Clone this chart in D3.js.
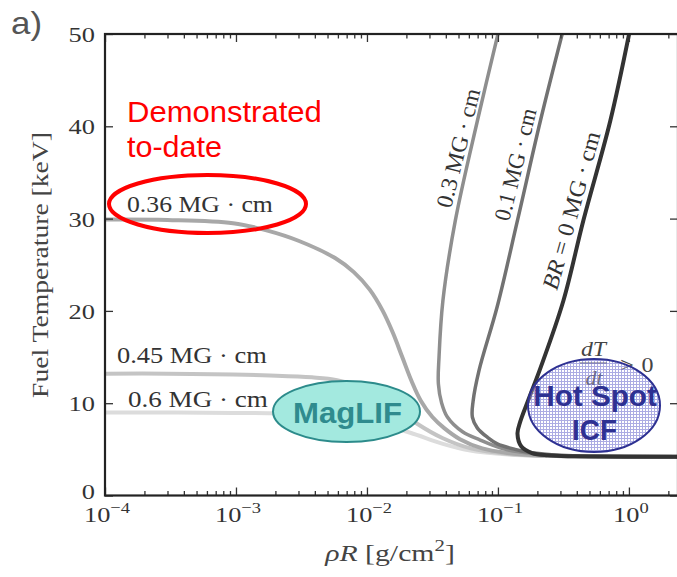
<!DOCTYPE html>
<html><head><meta charset="utf-8">
<script src="https://cdn.jsdelivr.net/npm/d3@7"></script>
<style>body{margin:0;background:#fff}svg{display:block}</style>
</head><body>
<svg id="c" width="677" height="577"></svg>
<script>
// ---------- data ----------
const xMajorTicks = [1e-4, 1e-3, 1e-2, 1e-1, 1e0];
const xTickExponents = ["−4", "−3", "−2", "−1", "0"];
const yTicks = [0, 10, 20, 30, 40, 50];
const yTickLabels = ["0", "10", "20", "30", "40", "50"];

const seriesNames = ["0.6 MG·cm", "0.45 MG·cm", "0.36 MG·cm", "0.3 MG·cm", "0.1 MG·cm", "BR = 0 MG·cm"];

const rhoR_06  = [1e-4, 9.5e-4, 3.0e-3, 6.0e-3, 1.2e-2, 2.14e-2, 3.8e-2, 6.0e-2, 0.12, 0.24, 2.37];
const T_06     = [9.0, 8.95, 8.85, 8.6, 7.8, 6.8, 5.6, 4.9, 4.45, 4.3, 4.2];

const rhoR_045 = [1e-4, 3.0e-4, 9.5e-4, 1.82e-3, 3.8e-3, 5.9e-3, 9.5e-3, 1.51e-2, 2.4e-2, 3.8e-2, 6.2e-2, 0.12, 0.24, 2.37];
const T_045    = [13.2, 13.2, 13.1, 13.0, 12.8, 12.5, 11.6, 9.9, 7.8, 6.2, 5.1, 4.5, 4.3, 4.2];

const rhoR_036 = [1e-4, 3.0e-4, 9.5e-4, 1.74e-3, 3.0e-3, 5.75e-3, 7.94e-3, 1.05e-2, 1.32e-2, 1.58e-2, 1.86e-2, 2.19e-2, 2.57e-2, 3.16e-2, 3.89e-2, 5.13e-2, 7.59e-2, 0.12, 0.19, 0.38, 2.37];
const T_036    = [29.9, 29.85, 29.5, 28.7, 27.6, 25.7, 24.2, 22.3, 20.0, 17.6, 15.0, 12.4, 10.3, 8.5, 7.3, 6.1, 5.1, 4.6, 4.35, 4.25, 4.2];

const rhoR_03  = [0.102, 0.0697, 0.0473, 0.038, 0.0355, 0.0351, 0.0372, 0.0411, 0.0537, 0.0733, 0.107, 0.148, 0.24, 0.48, 2.37];
const T_03     = [50.5, 40.6, 29.8, 21.1, 15.0, 12.1, 10.0, 8.5, 6.9, 6.0, 5.1, 4.7, 4.35, 4.25, 4.2];

const rhoR_01  = [0.316, 0.211, 0.141, 0.0989, 0.0716, 0.0646, 0.0638, 0.0697, 0.0832, 0.0989, 0.135, 0.177, 0.302, 0.60, 2.37];
const T_01     = [50.5, 40.6, 29.8, 20.5, 13.5, 10.2, 8.5, 7.3, 6.3, 5.6, 5.0, 4.65, 4.35, 4.25, 4.2];

const rhoR_0   = [1.02, 0.721, 0.449, 0.316, 0.211, 0.170, 0.148, 0.141, 0.151, 0.182, 0.24, 0.38, 2.37];
const T_0      = [50.5, 40.6, 29.8, 21.1, 13.8, 10.3, 8.0, 6.7, 5.3, 4.6, 4.35, 4.25, 4.2];

// ---------- setup ----------
const serif = "'Liberation Serif','DejaVu Serif',serif";
const sans = "'Liberation Sans',Arial,sans-serif";
const svg = d3.select("#c");
svg.append("rect").attr("width", 677).attr("height", 577).attr("fill", "#fff");

const L = 105, R = 678, T = 34, B = 495.5;
const x = d3.scaleLog().domain([1e-4, 2.37]).range([L, R]);
const y = d3.scaleLinear().domain([0, 50]).range([B, T]);

const defs = svg.append("defs");
defs.append("clipPath").attr("id", "plot").append("rect")
  .attr("x", L).attr("y", T).attr("width", R - L).attr("height", B - T);
const pat = defs.append("pattern").attr("id", "hatch").attr("width", 3).attr("height", 3)
  .attr("patternUnits", "userSpaceOnUse");
pat.append("rect").attr("width", 3).attr("height", 3).attr("fill", "#ffffff").attr("opacity", 0.25);
pat.append("path").attr("d", "M0,0.5H3M0.5,0V3").attr("stroke", "#5a5ac8").attr("stroke-width", 1).attr("opacity", 0.5);

function addText(parent, o) {
  const t = parent.append("text").attr("x", 0).attr("y", 0)
    .attr("font-family", o.family || serif).attr("font-size", o.size)
    .attr("text-anchor", o.anchor || "start").attr("fill", o.fill || "#333");
  if (o.weight) t.attr("font-weight", o.weight);
  const parts = o.parts || [{ t: o.text }];
  let raised = false;
  parts.forEach(p => {
    const ts = t.append("tspan").text(p.t);
    if (p.italic) ts.attr("font-style", "italic");
    if (p.sup) { ts.attr("font-size", o.size * 0.7).attr("dy", -o.size * 0.42); raised = true; }
    else if (raised) { ts.attr("dy", o.size * 0.42); raised = false; }
  });
  let s = o.sx || 1;
  if (o.width) s = o.width / t.node().getBBox().width;
  t.attr("transform", `translate(${o.x},${o.y}) rotate(${o.rot || 0}) scale(${s},1)`);
  return t;
}

// ---------- curves ----------
const line = d3.line().x(d => x(d[0])).y(d => y(d[1])).curve(d3.curveCatmullRom.alpha(0.5));
const series = [
  { r: rhoR_06, t: T_06, c: "#dcdcdc", w: 4 },
  { r: rhoR_045, t: T_045, c: "#c4c4c4", w: 4 },
  { r: rhoR_036, t: T_036, c: "#a8a8a8", w: 4 },
  { r: rhoR_03, t: T_03, c: "#8e8e8e", w: 3.5 },
  { r: rhoR_01, t: T_01, c: "#727272", w: 3.5 },
  { r: rhoR_0, t: T_0, c: "#333333", w: 4 }
];
const cg = svg.append("g").attr("clip-path", "url(#plot)");
series.forEach((s, i) => {
  cg.append("path").datum(s.r.map((v, j) => [v, s.t[j]]))
    .attr("d", line).attr("fill", "none").attr("stroke", s.c)
    .attr("stroke-width", s.w).attr("stroke-linecap", "round").attr("stroke-linejoin", "round")
    .attr("data-name", seriesNames[i]);
});

// ---------- axes ----------
const minor = x.ticks().filter(v => !xMajorTicks.some(m => Math.abs(v / m - 1) < 1e-6));
function styleAxis(g) {
  g.select(".domain").remove();
  g.selectAll(".tick line").attr("stroke", "#333").attr("stroke-width", 1.3);
  g.selectAll(".tick text").remove();
}
svg.append("g").attr("transform", `translate(0,${B})`).call(d3.axisBottom(x).tickValues(xMajorTicks).tickSize(-8).tickFormat("")).call(styleAxis);
svg.append("g").attr("transform", `translate(0,${B})`).call(d3.axisBottom(x).tickValues(minor).tickSize(-4.5).tickFormat("")).call(styleAxis);
svg.append("g").attr("transform", `translate(0,${T})`).call(d3.axisTop(x).tickValues(xMajorTicks).tickSize(-8).tickFormat("")).call(styleAxis);
svg.append("g").attr("transform", `translate(0,${T})`).call(d3.axisTop(x).tickValues(minor).tickSize(-4.5).tickFormat("")).call(styleAxis);
svg.append("g").attr("transform", `translate(${L},0)`).call(d3.axisLeft(y).tickValues(yTicks).tickSize(-8).tickFormat("")).call(styleAxis);
svg.append("g").attr("transform", `translate(${R},0)`).call(d3.axisRight(y).tickValues(yTicks).tickSize(-8).tickFormat("")).call(styleAxis);

svg.append("rect").attr("x", L).attr("y", T).attr("width", R - L).attr("height", B - T)
  .attr("fill", "none").attr("stroke", "#222").attr("stroke-width", 2.2);

// tick labels
xMajorTicks.forEach((v, i) => {
  addText(svg, { x: x(v) + 2, y: 522, size: 22, anchor: "middle", sx: 1.2, fill: "#333",
    parts: [{ t: "10" }, { t: xTickExponents[i], sup: true }] });
});
yTicks.forEach((v, i) => {
  const by = v === 0 ? 499 : y(v) + 8;
  addText(svg, { x: 95, y: by, size: 22, anchor: "end", sx: 1.2, fill: "#333", text: yTickLabels[i] });
});

// axis titles
addText(svg, { x: 48, y: 265, size: 23, anchor: "middle", rot: -90, width: 266, fill: "#444", text: "Fuel Temperature [keV]" });
addText(svg, { x: 390, y: 561, size: 23, anchor: "middle", width: 131, fill: "#444",
  parts: [{ t: "ρR", italic: true }, { t: " [g/cm" }, { t: "2", sup: true }, { t: "]" }] });

// curve labels
addText(svg, { x: 127, y: 212, size: 23, width: 146, text: "0.36 MG · cm" });
addText(svg, { x: 117, y: 363, size: 23, width: 150, text: "0.45 MG · cm" });
addText(svg, { x: 128, y: 407, size: 23, width: 140, text: "0.6 MG · cm" });
addText(svg, { x: 451, y: 209, size: 23, rot: -76, width: 122, text: "0.3 MG · cm" });
addText(svg, { x: 509, y: 222, size: 23, rot: -76, width: 115, text: "0.1 MG · cm" });
addText(svg, { x: 557, y: 291, size: 23, rot: -74.5, width: 163,
  parts: [{ t: "BR", italic: true }, { t: " = 0 MG · cm" }] });

// dT/dt > 0
addText(svg, { x: 593.5, y: 356, size: 22, anchor: "middle", width: 27, fill: "#444", parts: [{ t: "dT", italic: true }] });
svg.append("line").attr("x1", 580).attr("x2", 607).attr("y1", 363).attr("y2", 363).attr("stroke", "#555").attr("stroke-width", 1.2);
addText(svg, { x: 594, y: 385, size: 22, anchor: "middle", width: 18, fill: "#444", parts: [{ t: "dt", italic: true }] });
addText(svg, { x: 627, y: 372, size: 22, anchor: "middle", width: 14, fill: "#444", text: ">" });
addText(svg, { x: 647.5, y: 372, size: 22, anchor: "middle", width: 12, fill: "#444", text: "0" });

// ---------- annotations ----------
addText(svg, { x: 11, y: 34, size: 32, family: sans, width: 31, fill: "#555", text: "a)" });

addText(svg, { x: 127, y: 122, size: 29, family: sans, width: 195, fill: "#ff0000", text: "Demonstrated" });
addText(svg, { x: 127, y: 157, size: 29, family: sans, width: 95, fill: "#ff0000", text: "to-date" });
svg.append("ellipse").attr("cx", 207.5).attr("cy", 204).attr("rx", 98.5).attr("ry", 29)
  .attr("fill", "none").attr("stroke", "#ff0000").attr("stroke-width", 4);

svg.append("ellipse").attr("cx", 346.5).attr("cy", 411.5).attr("rx", 73.5).attr("ry", 30.5)
  .attr("fill", "#a3e9df").attr("stroke", "#2c8b8b").attr("stroke-width", 2);
addText(svg, { x: 347.5, y: 423, size: 30, family: sans, weight: "bold", anchor: "middle", width: 109, fill: "#2f8b8e", text: "MagLIF" });

svg.append("ellipse").attr("cx", 594).attr("cy", 405.5).attr("rx", 66).attr("ry", 46.5)
  .attr("fill", "url(#hatch)").attr("stroke", "#2e3192").attr("stroke-width", 2);
addText(svg, { x: 595, y: 406, size: 29, family: sans, weight: "bold", anchor: "middle", width: 124, fill: "#2e3192", text: "Hot Spot" });
addText(svg, { x: 594.5, y: 440, size: 29, family: sans, weight: "bold", anchor: "middle", width: 45, fill: "#2e3192", text: "ICF" });
</script>
</body></html>
